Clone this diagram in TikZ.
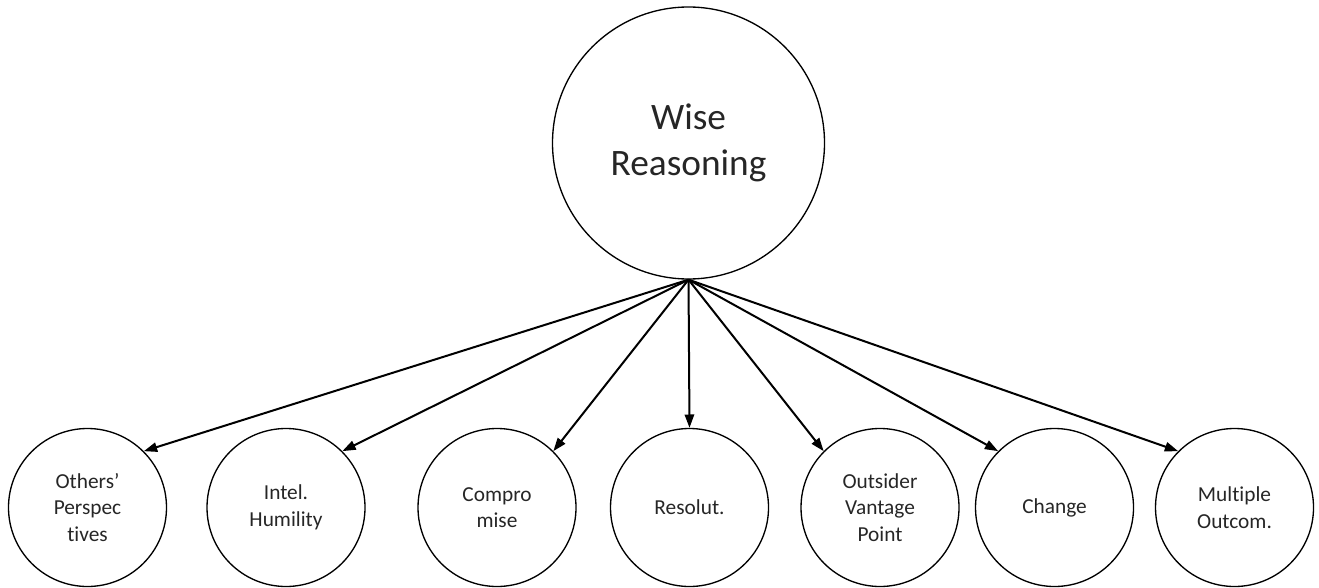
\documentclass[tikz,border=0pt]{standalone}
\usepackage{fontspec}
\setmainfont{Carlito}[Ligatures=NoCommon]
\usetikzlibrary{arrows.meta}

\tikzset{
  big/.style={circle,draw,line width=1pt,minimum size=204pt,inner sep=0pt,align=center,
    font=\fontsize{28}{34}\selectfont,text=black!85},
  small/.style={circle,draw,line width=1pt,minimum size=118.5pt,inner sep=0pt,align=center,
    font=\fontsize{16}{20}\selectfont,text=black!85},
  arr/.style={line width=1.5pt,-{Triangle[length=10pt,width=7pt]}}
}

\begin{document}
\begin{tikzpicture}[x=0.75pt,y=-0.75pt]
\useasboundingbox (0,0) rectangle (1319,588);
\node [big] (wr) at (688.5,143) {Wise\\Reasoning};
\node [small] (op) at (87.5,507.5) {Others'\\Perspec\\tives};
\node [small] (ih) at (286,507.5) {Intel.\\Humility};
\node [small] (cm) at (497,507.5) {Compro\\mise};
\node [small] (rs) at (689.5,507.5) {Resolut.};
\node [small] (ov) at (880,507.5) {Outsider\\Vantage\\Point};
\node [small] (ch) at (1054.5,507.5) {Change};
\node [small] (mo) at (1234.5,507.5) {Multiple\\Outcom.};
%all arrows leave from the same point
\path (wr.south)
  edge [arr] (op.north east) edge [arr] (ih.north east)
  edge [arr] (cm.north east) edge [arr] (rs.north)
  edge [arr] (ov.north west) edge [arr] (ch.north west)
  edge [arr] (mo.north west);
\end{tikzpicture}
\end{document}
